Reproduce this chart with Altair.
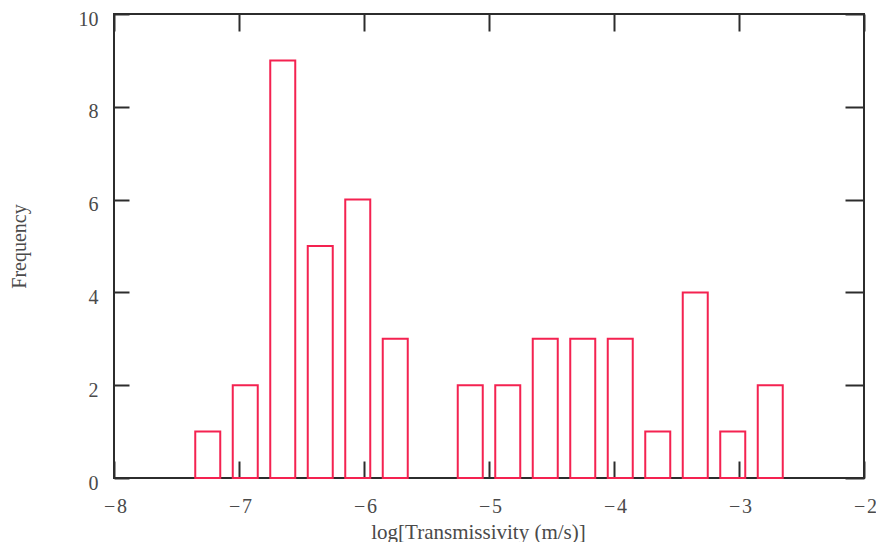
import altair as alt
import pandas as pd

# Histogram data
bin_centers = [-7.25, -6.95, -6.65, -6.35, -6.05, -5.75, -5.45, -5.15,
               -4.85, -4.55, -4.25, -3.95, -3.65, -3.35, -3.05, -2.75]
frequencies = [1, 2, 9, 5, 6, 3, 0, 2, 2, 3, 3, 3, 1, 4, 1, 2]
x_ticks = [-8, -7, -6, -5, -4, -3, -2]
y_ticks = [0, 2, 4, 6, 8, 10]
x_title = "log[Transmissivity (m/s)]"
y_title = "Frequency"

df = pd.DataFrame({"center": bin_centers, "freq": frequencies})

FONT = "Liberation Serif"
RED = "#f42250"
INK = "#2c2c2c"
TXT = "#4a4a4a"

xscale = alt.Scale(domain=[-8, -2], nice=False, zero=False)
yscale = alt.Scale(domain=[0, 10], nice=False, zero=False)

base = (
    alt.Chart(df)
    .transform_filter("datum.freq > 0")
    .transform_calculate(x1="datum.center - 0.1", x2="datum.center + 0.1")
)

bars = base.mark_rect(filled=False, stroke=RED, strokeWidth=2).encode(
    x=alt.X(
        "x1:Q",
        scale=xscale,
        axis=alt.Axis(
            orient="bottom",
            values=x_ticks,
            labelExpr="datum.value < 0 ? '\u2212\u200a' + abs(datum.value) : '' + datum.value",
            labelFlush=False,
            domain=False,
            grid=False,
            tickSize={"expr": "-17"},
            tickWidth=2,
            tickColor=INK,
            labelPadding=35,
            labelOffset=1,
            labelFont=FONT,
            labelFontSize=20,
            labelColor=TXT,
            title=x_title,
            titleFont=FONT,
            titleFontSize=21,
            titleFontWeight="normal",
            titleColor=TXT,
            titleX=364,
            titleY=60,
            titleAlign="center",
            titleBaseline="alphabetic",
        ),
    ),
    x2="x2:Q",
    y=alt.Y(
        "freq:Q",
        scale=yscale,
        axis=alt.Axis(
            orient="left",
            values=y_ticks,
            format="d",
            labelFlush=False,
            domain=False,
            grid=False,
            tickSize={"expr": "-15"},
            tickWidth=2,
            tickColor=INK,
            labelPadding=31,
            labelOffset=5,
            labelFont=FONT,
            labelFontSize=20,
            labelColor=TXT,
            title=y_title,
            titleFont=FONT,
            titleFontSize=20,
            titleFontWeight="normal",
            titleColor=TXT,
            titleAngle=-90,
            titleX=-89,
            titleY=232,
            titleAlign="center",
            titleBaseline="alphabetic",
        ),
    ),
    y2=alt.datum(0),
)

frame_axes = base.mark_rect(opacity=0).encode(
    x=alt.X(
        "x1:Q",
        scale=xscale,
        axis=alt.Axis(
            orient="top",
            values=x_ticks,
            labels=False,
            domain=False,
            grid=False,
            tickSize={"expr": "-17"},
            tickWidth=2,
            tickColor=INK,
            title=None,
        ),
    ),
    x2="x2:Q",
    y=alt.Y(
        "freq:Q",
        scale=yscale,
        axis=alt.Axis(
            orient="right",
            values=y_ticks,
            labels=False,
            domain=False,
            grid=False,
            tickSize={"expr": "-19"},
            tickWidth=2,
            tickColor=INK,
            title=None,
        ),
    ),
    y2=alt.datum(0),
)

chart = (
    alt.layer(bars, frame_axes)
    .resolve_axis(x="independent", y="independent")
    .properties(
        width=750,
        height=464,
        padding={"left": 106, "top": 6, "right": 12, "bottom": 64},
        autosize=alt.AutoSizeParams(type="none"),
        background="white",
    )
    .configure_view(stroke=INK, strokeWidth=2)
)

chart.save("out.html", embed_options={"renderer": "svg", "actions": False})
